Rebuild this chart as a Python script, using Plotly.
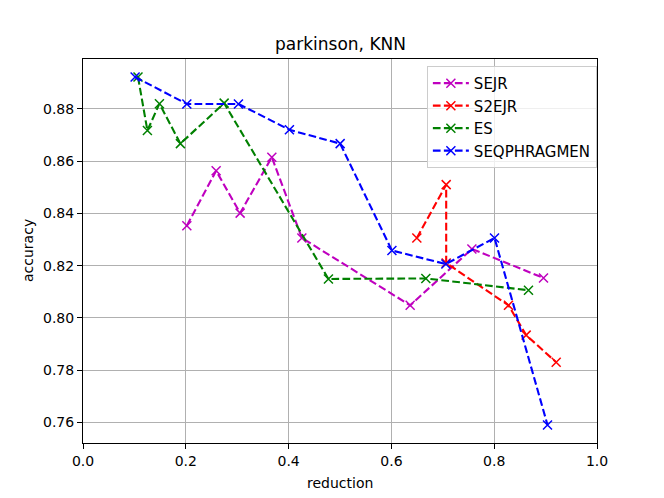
import plotly.graph_objects as go

# SEJR
sejr_x = [0.202, 0.259, 0.3057, 0.3674, 0.4258, 0.6365, 0.7566, 0.8959]
sejr_y = [0.8353, 0.8563, 0.8401, 0.8615, 0.8306, 0.8048, 0.8264, 0.8153]
# S2EJR
s2ejr_x = [0.6495, 0.7066, 0.7066, 0.8278, 0.8622, 0.9206]
s2ejr_y = [0.8306, 0.8510, 0.8210, 0.8048, 0.7934, 0.7830]
# ES
es_x = [0.107, 0.1253, 0.1487, 0.1895, 0.2746, 0.4775, 0.667, 0.8667]
es_y = [0.8922, 0.8717, 0.8820, 0.8667, 0.8822, 0.8149, 0.8151, 0.8106]
# SEQPHRAGMEN
seq_x = [0.1014, 0.202, 0.3024, 0.4016, 0.5003, 0.601, 0.706, 0.8006, 0.9037]
seq_y = [0.8922, 0.8819, 0.8819, 0.8720, 0.8667, 0.8258, 0.8206, 0.8306, 0.7590]

x_ticks = [0.0, 0.2, 0.4, 0.6, 0.8, 1.0]
y_ticks = [0.76, 0.78, 0.80, 0.82, 0.84, 0.86, 0.88]

series = [
    ("SEJR", sejr_x, sejr_y, "#bf00bf"),
    ("S2EJR", s2ejr_x, s2ejr_y, "#ff0000"),
    ("ES", es_x, es_y, "#008000"),
    ("SEQPHRAGMEN", seq_x, seq_y, "#0000ff"),
]

FONT = "DejaVu Sans"
fig = go.Figure()
for name, xs, ys, col in series:
    fig.add_trace(go.Scatter(
        x=xs, y=ys, name=name, mode="lines+markers",
        line=dict(color=col, width=2.1, dash="7.7px,3.3px"),
        marker=dict(symbol="x-thin", size=9, line=dict(color=col, width=1.5), color=col),
    ))

axis_common = dict(
    showline=True, linecolor="black", linewidth=1.1, mirror=True,
    ticks="outside", ticklen=5, tickwidth=1.1, tickcolor="black",
    showgrid=True, gridcolor="#b0b0b0", gridwidth=1.1, zeroline=False,
    tickfont=dict(family=FONT, size=14, color="black"),
    automargin=False,
)

fig.update_layout(
    width=656, height=490,
    margin=dict(l=75, r=67, t=51, b=55),
    paper_bgcolor="white", plot_bgcolor="white",
    font=dict(family=FONT, size=14, color="black"),
    showlegend=True,
    legend=dict(
        x=0.669, y=0.982, xanchor="left", yanchor="top",
        bgcolor="rgba(255,255,255,0.8)", bordercolor="#cccccc", borderwidth=1,
        font=dict(family=FONT, size=15, color="black"),
        tracegroupgap=0, itemwidth=36,
    ),
    xaxis=dict(range=[0, 1], tickvals=x_ticks, ticktext=[f"{v:.1f}" for v in x_ticks],
               **axis_common),
    yaxis=dict(range=[0.7521, 0.8991], tickvals=y_ticks, ticktext=[f"{v:.2f}" for v in y_ticks],
               **axis_common),
    annotations=[
        dict(text="parkinson, KNN", xref="paper", yref="paper", x=0.5, y=1,
             xanchor="center", yanchor="bottom", yshift=3, showarrow=False,
             font=dict(family=FONT, size=17, color="black")),
        dict(text="reduction", xref="paper", yref="paper", x=0.5, y=0,
             xanchor="center", yanchor="middle", yshift=-40, showarrow=False,
             font=dict(family=FONT, size=14, color="black")),
        dict(text="accuracy", xref="paper", yref="paper", x=0, y=0.5,
             xanchor="center", yanchor="middle", xshift=-55, textangle=-90, showarrow=False,
             font=dict(family=FONT, size=14, color="black")),
    ],
)

fig.write_html("out.html")
